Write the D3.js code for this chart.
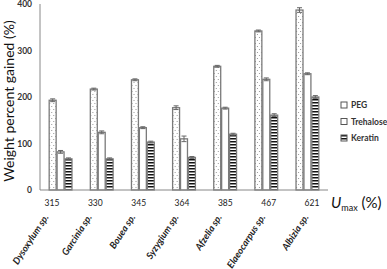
<!DOCTYPE html>
<html>
<head>
<meta charset="utf-8">
<script src="https://cdn.jsdelivr.net/npm/d3@7"></script>
<style>
  body { margin: 0; background: #fff; }
  svg { display: block; font-family: Lato, "Open Sans", sans-serif; }
</style>
</head>
<body>
<div id="chart"></div>
<script>
// data
const species = ["Dysoxylum sp.", "Garcinia sp.", "Bouea sp.", "Syzygium sp.", "Afzelia sp.", "Elaeocarpus sp.", "Albizia sp."];
const umax = ["315", "330", "345", "364", "385", "467", "621"];
const seriesNames = ["PEG", "Trehalose", "Keratin"];
const pegValues = [193, 217, 237, 177, 266, 342, 387];
const trehaloseValues = [82, 124, 134, 110, 176, 238, 250];
const keratinValues = [67, 67, 103, 70, 120, 161, 200];
const pegErr = [3, 2, 2, 4, 2, 2, 5];
const trehaloseErr = [3, 3, 2, 6, 2, 3, 2];
const keratinErr = [2, 2, 2, 2, 2, 3, 3];
const yTicks = [0, 100, 200, 300, 400];

const width = 387, height = 269;

const svg = d3.select("#chart").append("svg")
    .attr("width", width)
    .attr("height", height);

// fill patterns
const defs = svg.append("defs");
const dots = defs.append("pattern")
    .attr("id", "dots").attr("patternUnits", "userSpaceOnUse")
    .attr("width", 4).attr("height", 6);
dots.append("rect").attr("width", 4).attr("height", 6).attr("fill", "#fff");
dots.append("rect").attr("x", 1).attr("y", 1).attr("width", 1).attr("height", 1).attr("fill", "#999");
dots.append("rect").attr("x", 3).attr("y", 4).attr("width", 1).attr("height", 1).attr("fill", "#999");

const stripes = defs.append("pattern")
    .attr("id", "stripes").attr("patternUnits", "userSpaceOnUse")
    .attr("width", 4).attr("height", 3);
stripes.append("rect").attr("width", 4).attr("height", 3).attr("fill", "#fff");
stripes.append("rect").attr("y", 0).attr("width", 4).attr("height", 1.5).attr("fill", "#111");

const fills = { PEG: "url(#dots)", Trehalose: "#fff", Keratin: "url(#stripes)" };

const rows = species.map((s, i) => ({
    species: s,
    values: [
        { key: "PEG", value: pegValues[i], err: pegErr[i] },
        { key: "Trehalose", value: trehaloseValues[i], err: trehaloseErr[i] },
        { key: "Keratin", value: keratinValues[i], err: keratinErr[i] }
    ]
}));

const x0 = d3.scaleBand().domain(species).range([40, 328]).paddingInner(0.4).paddingOuter(0.2);
const x1 = d3.scaleBand().domain(seriesNames).range([0, x0.bandwidth()]).padding(0.12);
const y = d3.scaleLinear().domain([0, 400]).range([190, 4]);

// y tick labels
svg.append("g").selectAll("text")
    .data(yTicks).enter().append("text")
    .attr("x", 32)
    .attr("y", d => y(d) + 3)
    .attr("text-anchor", "end")
    .attr("font-size", 8.5)
    .attr("font-weight", "bold")
    .attr("fill", "#333")
    .text(d => d);

// bars
const groups = svg.append("g").selectAll("g")
    .data(rows).enter().append("g")
    .attr("transform", d => `translate(${x0(d.species)},0)`);

groups.selectAll("rect")
    .data(d => d.values).enter().append("rect")
    .attr("x", d => x1(d.key))
    .attr("y", d => y(d.value))
    .attr("width", x1.bandwidth())
    .attr("height", d => y(0) - y(d.value))
    .attr("fill", d => fills[d.key])
    .attr("stroke", "#7a7a7a")
    .attr("stroke-width", 1.3);

// error bars
const err = groups.selectAll("g.err")
    .data(d => d.values).enter().append("g").attr("class", "err")
    .attr("stroke", "#666").attr("stroke-width", 1);
err.append("line")
    .attr("x1", d => x1(d.key) + x1.bandwidth() / 2)
    .attr("x2", d => x1(d.key) + x1.bandwidth() / 2)
    .attr("y1", d => y(d.value + d.err))
    .attr("y2", d => y(d.value - d.err));
err.append("line")
    .attr("x1", d => x1(d.key) + x1.bandwidth() / 2 - 2.5)
    .attr("x2", d => x1(d.key) + x1.bandwidth() / 2 + 2.5)
    .attr("y1", d => y(d.value + d.err))
    .attr("y2", d => y(d.value + d.err));
err.append("line")
    .attr("x1", d => x1(d.key) + x1.bandwidth() / 2 - 2.5)
    .attr("x2", d => x1(d.key) + x1.bandwidth() / 2 + 2.5)
    .attr("y1", d => y(d.value - d.err))
    .attr("y2", d => y(d.value - d.err));

// axes lines
svg.append("line")
    .attr("x1", 40).attr("x2", 40).attr("y1", y(400)).attr("y2", y(0))
    .attr("stroke", "#888").attr("stroke-width", 1);
svg.append("line")
    .attr("x1", 40).attr("x2", 328).attr("y1", y(0)).attr("y2", y(0))
    .attr("stroke", "#888").attr("stroke-width", 1);

// category label rows
const xl = d3.scalePoint().domain(umax).range([52, 312]);
svg.append("g").selectAll("text")
    .data(umax).enter().append("text")
    .attr("x", d => xl(d))
    .attr("y", 206)
    .attr("text-anchor", "middle")
    .attr("font-size", 8.5)
    .attr("fill", "#222")
    .text(d => d);

svg.append("g").selectAll("text")
    .data(species).enter().append("text")
    .attr("transform", (d, i) => `translate(${xl(umax[i]) - 3},${217}) rotate(-57)`)
    .attr("text-anchor", "end")
    .attr("font-size", 9.5)
    .attr("font-style", "italic")
    .attr("font-weight", "bold")
    .attr("fill", "#222")
    .text(d => d);

// U max label
const ut = svg.append("text")
    .attr("x", 331).attr("y", 208)
    .attr("font-size", 15)
    .attr("fill", "#111");
ut.append("tspan").attr("font-style", "italic").text("U");
ut.append("tspan").attr("font-size", 9).attr("dy", 3).text("max");
ut.append("tspan").attr("dy", -3).text(" (%)");

// y axis title
svg.append("text")
    .attr("transform", "translate(14,101) rotate(-90)")
    .attr("text-anchor", "middle")
    .attr("font-size", 14)
    .attr("fill", "#111")
    .text("Weight percent gained (%)");

// legend
const ly = d3.scalePoint().domain(seriesNames).range([105, 138]);
const leg = svg.append("g").selectAll("g")
    .data(seriesNames).enter().append("g")
    .attr("transform", d => `translate(341,${ly(d)})`);
leg.append("rect")
    .attr("x", 0).attr("y", -3).attr("width", 6).attr("height", 6)
    .attr("fill", d => d === "Keratin" ? "url(#stripes)" : "#fff")
    .attr("stroke", "#555").attr("stroke-width", 1);
leg.append("text")
    .attr("x", 10).attr("y", 3)
    .attr("font-size", 8.5)
    .attr("font-weight", "bold")
    .attr("fill", "#333")
    .text(d => d);
</script>
</body>
</html>
